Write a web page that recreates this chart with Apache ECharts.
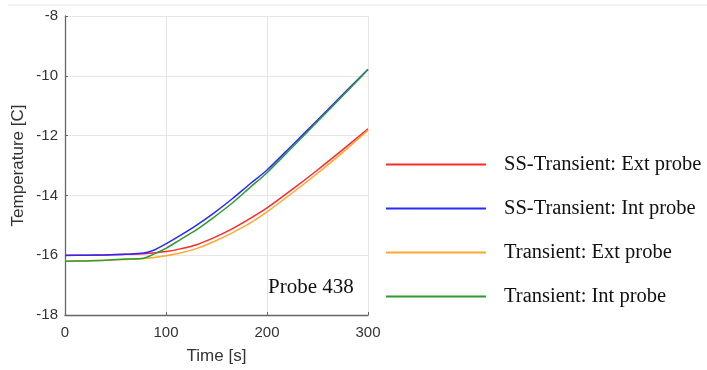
<!DOCTYPE html>
<html>
<head>
<meta charset="utf-8">
<script src="https://cdn.jsdelivr.net/npm/echarts@6/dist/echarts.min.js"></script>
<style>html,body{margin:0;padding:0;background:#fff;}#c{width:707px;height:370px;}</style>
</head>
<body>
<div id="c"></div>
<script>
const times = [0, 20, 40, 60, 78, 90, 100, 115, 130, 147, 165, 183, 200, 225, 250, 275, 300];
const ssExt = [-16.0, -16.0, -15.99, -15.97, -15.95, -15.92, -15.88, -15.78, -15.65, -15.42, -15.13, -14.78, -14.42, -13.8, -13.15, -12.47, -11.77];
const ssInt = [-16.01, -16.0, -15.99, -15.97, -15.93, -15.8, -15.62, -15.32, -15.0, -14.6, -14.13, -13.62, -13.15, -12.32, -11.48, -10.63, -9.78];
const trExt = [-16.2, -16.19, -16.17, -16.14, -16.11, -16.07, -16.02, -15.92, -15.78, -15.55, -15.26, -14.93, -14.55, -13.92, -13.26, -12.56, -11.82];
const trInt = [-16.2, -16.19, -16.17, -16.13, -16.1, -15.93, -15.77, -15.46, -15.15, -14.74, -14.27, -13.74, -13.24, -12.39, -11.53, -10.67, -9.8];
const seriesNames = ['SS-Transient: Ext probe', 'SS-Transient: Int probe', 'Transient: Ext probe', 'Transient: Int probe'];
const xTicks = [0, 100, 200, 300];
const yTicks = [-18, -16, -14, -12, -10, -8];

const colors = ['#ff2a2a', '#2a2aff', '#ffa733', '#2f9c2f'];
const values = [ssExt, ssInt, trExt, trInt];
const zip = arr => times.map((t, i) => [t, arr[i]]);

const chart = echarts.init(document.getElementById('c'), null, {renderer: 'canvas'});
chart.setOption({
  animation: false,
  backgroundColor: '#fff',
  grid: {left: 65, right: 339, top: 16, bottom: 55, containLabel: false},
  xAxis: {
    type: 'value', min: xTicks[0], max: xTicks[xTicks.length - 1], interval: 100,
    name: 'Time [s]', nameLocation: 'middle', nameGap: 33,
    nameTextStyle: {fontFamily: 'Liberation Sans', fontSize: 17, color: '#333'},
    axisLine: {show: true, lineStyle: {color: '#666', width: 1.3}},
    axisTick: {show: true, inside: true, length: 3, lineStyle: {color: '#666'}},
    axisLabel: {fontFamily: 'Liberation Sans', fontSize: 15, color: '#333', margin: 10},
    splitLine: {show: true, lineStyle: {color: '#e6e6e6', width: 1}}
  },
  yAxis: {
    type: 'value', min: yTicks[0], max: yTicks[yTicks.length - 1], interval: 2,
    name: 'Temperature [C]', nameLocation: 'middle', nameGap: 38,
    nameTextStyle: {fontFamily: 'Liberation Sans', fontSize: 17, color: '#333'},
    axisLine: {show: true, lineStyle: {color: '#666', width: 1.3}},
    axisTick: {show: true, inside: true, length: 3, lineStyle: {color: '#666'}},
    axisLabel: {fontFamily: 'Liberation Sans', fontSize: 15, color: '#333', margin: 7},
    splitLine: {show: true, lineStyle: {color: '#e6e6e6', width: 1}}
  },
  legend: {
    orient: 'vertical', left: 386, top: 154, padding: 0,
    icon: 'rect', itemWidth: 100, itemHeight: 2, itemGap: 23,
    textStyle: {fontFamily: 'Liberation Serif', fontSize: 20.5, color: '#111', lineHeight: 20, padding: [0, 0, 0, 13]},
    data: seriesNames
  },
  title: {
    text: 'Probe 438', left: 268, top: 277, padding: 0,
    textStyle: {fontFamily: 'Liberation Serif', fontSize: 21, fontWeight: 'normal', color: '#111'}
  },
  graphic: [{
    type: 'line', shape: {x1: 8, y1: 5, x2: 707, y2: 5},
    style: {stroke: '#f2f2f2', lineWidth: 2}, silent: true
  }],
  series: values.map((v, i) => ({
    name: seriesNames[i], type: 'line', data: zip(v), symbol: 'none', smooth: 0.3,
    color: colors[i], lineStyle: {color: colors[i], width: 1.5}
  }))
});
</script>
</body>
</html>
